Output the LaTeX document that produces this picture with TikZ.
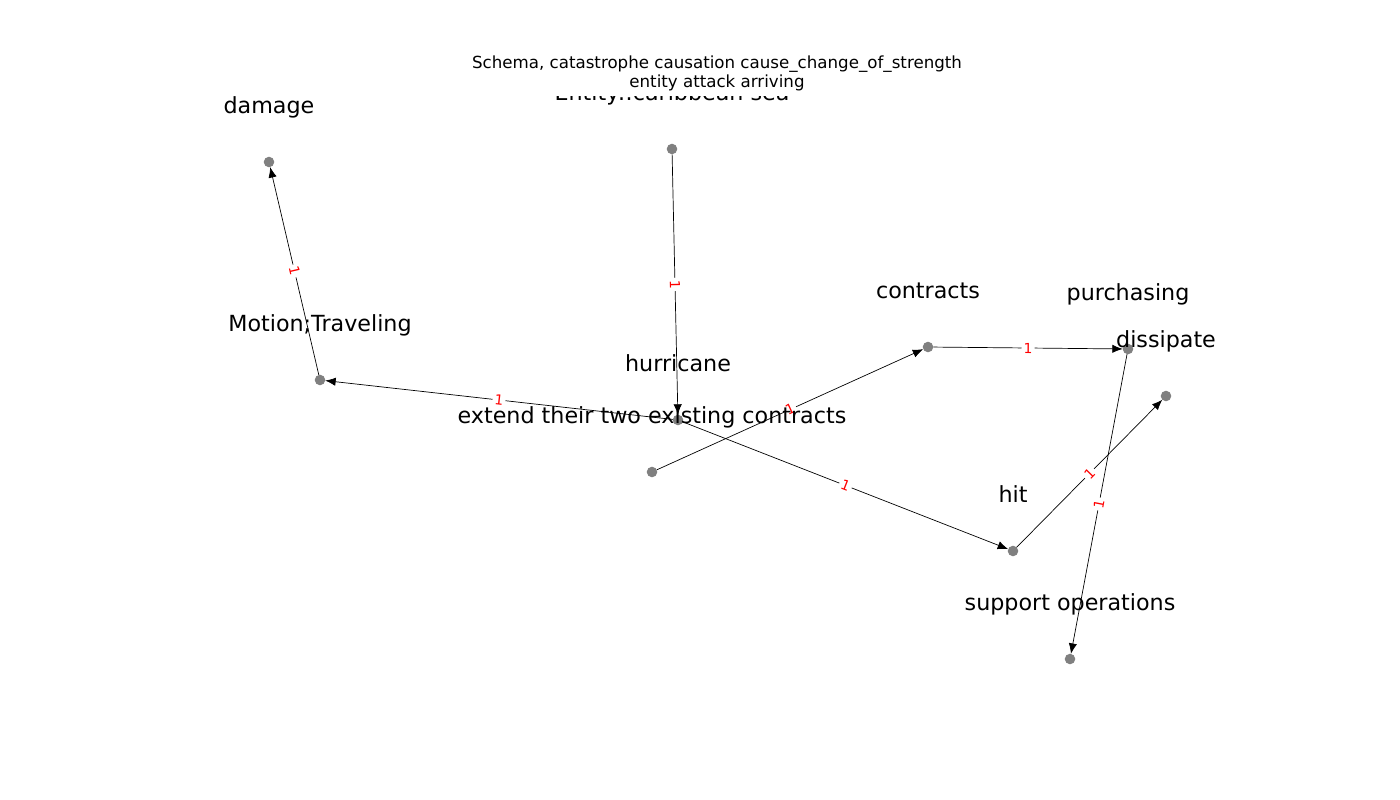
\documentclass[tikz,border=0pt]{standalone}
\usepackage{fontspec}
\setmainfont{DejaVu Sans}
\usetikzlibrary{arrows.meta, positioning}
\definecolor{mgray}{HTML}{808080}
\tikzstyle{concept} = [circle, fill=mgray, minimum size=7.6pt, inner sep=0pt, outer sep=0pt]
\tikzstyle{tag} = [anchor=center, font=\fontsize{16}{19}\selectfont, text height=12pt, text depth=3.5pt, inner sep=0pt]
\tikzstyle{link} = [line width=0.5pt, -{Latex[length=7.5pt, width=6pt]}]
\tikzstyle{weight} = [midway, sloped, fill=white, text=red, font=\fontsize{10}{12}\selectfont, inner sep=1.5pt]

\begin{document}
\begin{tikzpicture}[x=0.72pt, y=-0.72pt]
\useasboundingbox (0,0) rectangle (1400,800);
\node (title) at (717,73) [align=center, font=\fontsize{12}{13.7}\selectfont] {Schema, catastrophe causation cause\_change\_of\_strength\\entity attack arriving};
% concepts
\node (damage) [concept] at (269,162) {};
\node (entity) [concept] at (672,149) {};
\node (motion) [concept] at (320,380) {};
\node (hurricane) [concept] at (678,420) {};
\node (extend) [concept] at (652,472) {};
\node (contracts) [concept] at (928,347) {};
\node (purchasing) [concept] at (1128,349) {};
\node (dissipate) [concept] at (1166,396) {};
\node (hit) [concept] at (1013,551) {};
\node (support) [concept] at (1070,659) {};
% links
\draw [link] (motion) -- node[weight] {1} (damage);
\draw [link] (entity) -- node[weight] {1} (hurricane);
\draw [link] (hurricane) -- node[weight] {1} (motion);
\draw [link] (extend) -- node[weight] {1} (contracts);
\draw [link] (contracts) -- node[weight] {1} (purchasing);
\draw [link] (hurricane) -- node[weight] {1} (hit);
\draw [link] (hit) -- node[weight] {1} (dissipate);
\draw [link] (purchasing) -- node[weight] {1} (support);
% tags
\node (damagetxt) [above=39.5pt of damage.center, tag] {damage};
\node (motiontxt) [above=39.5pt of motion.center, tag] {Motion;Traveling};
\node (hurricanetxt) [above=39.5pt of hurricane.center, tag] {hurricane};
\node (extendtxt) [above=39.5pt of extend.center, tag] {extend their two existing contracts};
\node (contractstxt) [above=39.5pt of contracts.center, tag] {contracts};
\node (purchasingtxt) [above=39.5pt of purchasing.center, tag] {purchasing};
\node (dissipatetxt) [above=39.5pt of dissipate.center, tag] {dissipate};
\node (hittxt) [above=39.5pt of hit.center, tag] {hit};
\node (supporttxt) [above=39.5pt of support.center, tag] {support operations};
\begin{scope}
\clip (0,96) rectangle (1400,800);
\node (entitytxt) [above=39.5pt of entity.center, tag] {Entity::caribbean sea};
\end{scope}
\end{tikzpicture}
\end{document}
